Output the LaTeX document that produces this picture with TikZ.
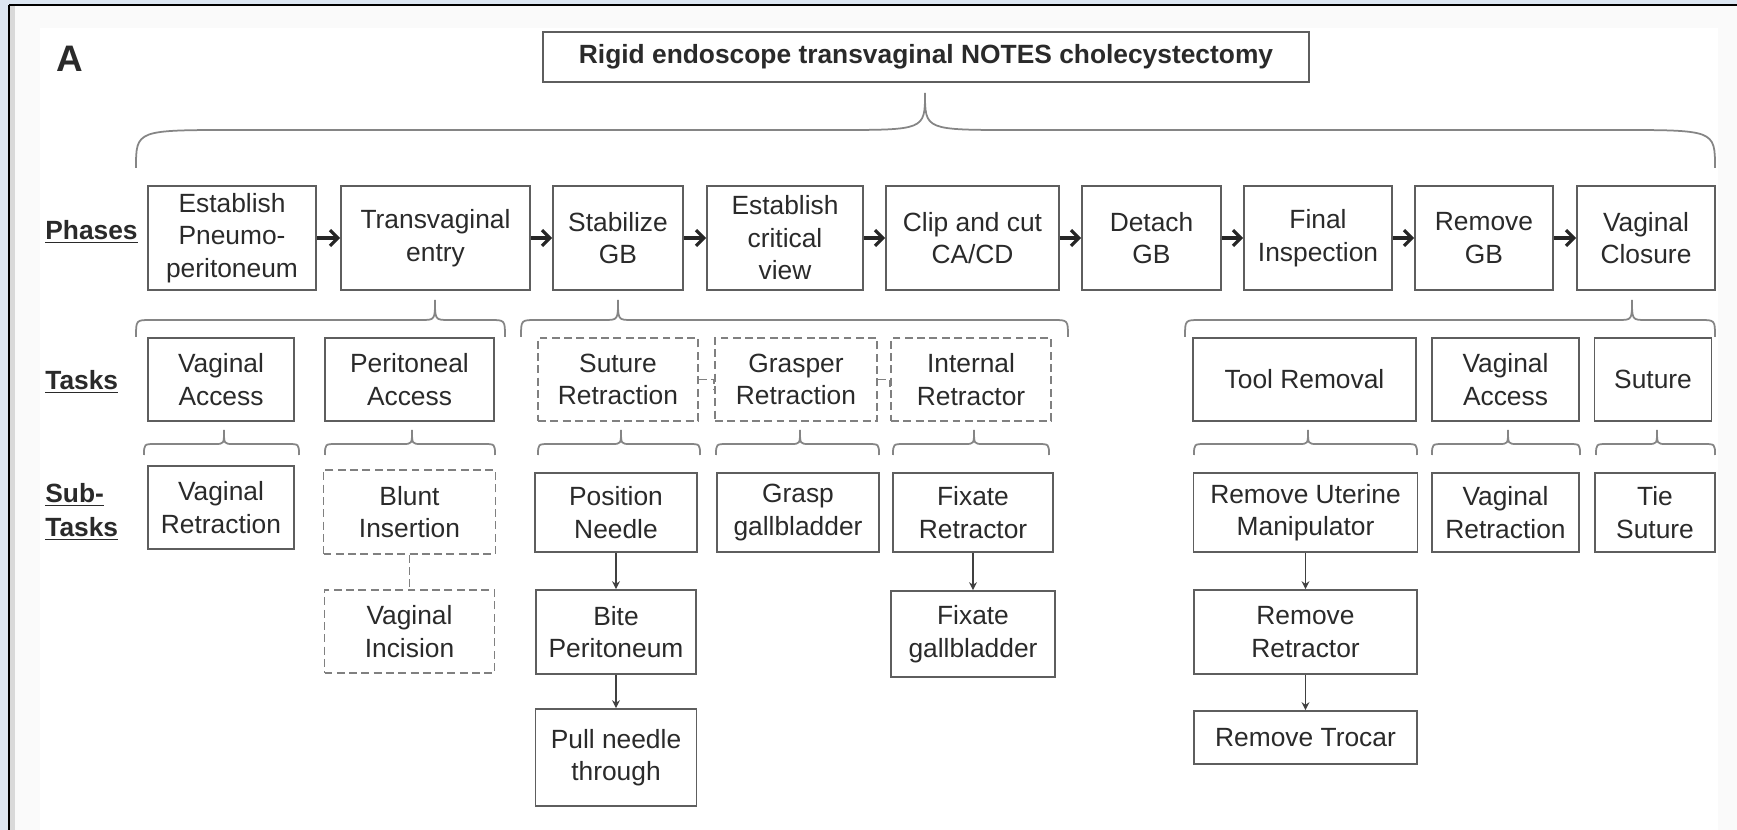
\documentclass[tikz,border=0pt]{standalone}
\usepackage{fontspec}
\setmainfont{Liberation Sans}
\usetikzlibrary{arrows.meta,positioning}
\definecolor{framebg}{HTML}{DCE6F2}
\definecolor{boxline}{HTML}{5E5E5E}
\definecolor{dashline}{HTML}{808080}
\definecolor{braceline}{HTML}{858585}
\definecolor{txt}{HTML}{2A2A2A}
\newcommand{\boxfont}{\fontsize{15}{18.5}\selectfont}

\begin{document}
\begin{tikzpicture}[x=0.02cm,y=-0.02cm,
  box/.style={draw=boxline,line width=0.035cm,align=center,inner sep=0pt,text=txt,font=\boxfont},
  dbox/.style={box,draw=dashline,dash pattern=on 4.5pt off 2.5pt},
  wh/.style 2 args={minimum width=#1*0.02cm,minimum height=#2*0.02cm},
  lbl/.style={font=\boxfont\bfseries,text=txt,inner sep=0pt,align=left},
  brc/.style={draw=braceline,line width=0.035cm},
  parrow/.style={-{Straight Barb[length=4.5pt,width=9pt]},line width=1.8pt,black!85},
  sarrow/.style={-{Stealth[length=4.5pt,width=4.5pt]},line width=0.8pt,black!75},
  dline/.style={draw=dashline,line width=0.035cm,dash pattern=on 4.5pt off 2.5pt}]
  \useasboundingbox (0,0) rectangle (1737,830);
  % frame of the screenshot
  \fill[framebg] (0,0) rectangle (1737,830);
  \fill[black!2] (8,5) rectangle (1737,830);
  \fill[white] (40,28) rectangle (1718,830);
  \fill[black!15] (10,6) rectangle (15,830);
  \draw[line width=0.04cm] (9,5) -- (1737,5) (9,5) -- (9,830);

  \node[lbl,font=\fontsize{21}{24}\selectfont\bfseries,anchor=base west] (lA) at (56,72) {A};
  \node[box,wh={766}{50},font=\boxfont\bfseries] (top) at (926,57) {Rigid endoscope transvaginal NOTES cholecystectomy};

  % phases
  \node[lbl,anchor=base west] (lph) at (45,240) {\underline{Phases}};
  \foreach \n/\x/\w/\t in {p1/232/168/{Establish\\Pneumo-\\peritoneum},
      p2/435.5/189/{Transvaginal\\entry}, p3/618/130/{Stabilize\\GB},
      p4/785/156/{Establish\\critical\\view}, p5/972.5/173/{Clip and cut\\CA/CD},
      p6/1151.5/139/{Detach\\GB}, p7/1318/148/{Final\\Inspection},
      p8/1484/138/{Remove\\GB}, p9/1646/138/{Vaginal\\Closure}}
    \node[box,wh={\w}{104}] (\n) at (\x,238) {\t};
  \foreach \a/\b in {p1/p2,p2/p3,p3/p4,p4/p5,p5/p6,p6/p7,p7/p8,p8/p9}
    \draw[parrow] (\a) -- (\b);

  % braces
  \draw[brc] (136,168) .. controls (136,130) .. (236,130) -- (835,130)
    .. controls (925,130) .. (925,93) .. controls (925,130) .. (1015,130)
    -- (1615,130) .. controls (1715,130) .. (1715,168);
  \foreach \xa/\xt/\xb in {136/435/505, 521/618/1068, 1185/1632/1715}
    \draw[brc] (\xa,337) .. controls (\xa,320) .. (\xa+15,320) -- (\xt-14,320)
      .. controls (\xt,320) .. (\xt,300) .. controls (\xt,320) .. (\xt+14,320)
      -- (\xb-15,320) .. controls (\xb,320) .. (\xb,337);
  \foreach \xa/\xt/\xb in {144/224/299, 325/412/495, 538/621/700, 716/800/879,
      893/974/1049, 1194/1308/1417, 1432/1508/1580, 1596/1657/1715}
    \draw[brc] (\xa,455) .. controls (\xa,444) .. (\xa+12,444) -- (\xt-9,444)
      .. controls (\xt,444) .. (\xt,430) .. controls (\xt,444) .. (\xt+9,444)
      -- (\xb-12,444) .. controls (\xb,444) .. (\xb,455);

  % tasks
  \node[lbl,anchor=base west] (ltk) at (45,390) {\underline{Tasks}};
  \node[box,wh={146}{83}] (t1) at (221,379.5) {Vaginal\\Access};
  \node[box,wh={169}{83}] (t2) at (409.5,379.5) {Peritoneal\\Access};
  \node[dbox,wh={160}{83}] (t3) at (618,379.5) {Suture\\Retraction};
  \node[dbox,wh={162}{83}] (t4) at (796,379.5) {Grasper\\Retraction};
  \node[dbox,wh={160}{83}] (t5) at (971,379.5) {Internal\\Retractor};
  \node[box,wh={223}{83}] (t6) at (1304.5,379.5) {Tool Removal};
  \node[box,wh={147}{83}] (t7) at (1505.5,379.5) {Vaginal\\Access};
  \node[box,wh={117}{83}] (t8) at (1653,379.5) {Suture};
  \draw[dline] (t3.east) -| ([yshift=-0.2cm]t4.west);
  \draw[dline] (t4.east) -| ([yshift=-0.2cm]t5.west);

  % sub-tasks
  \node[lbl,anchor=north west] (lst) at (45,483) {\underline{Sub-}\\[1pt]\underline{Tasks}};
  \node[box,wh={146}{83}] (s1) at (221,507.5) {Vaginal\\Retraction};
  \node[dbox,wh={172}{84}] (s2) at (409.5,512) {Blunt\\Insertion};
  \node[box,wh={162}{79}] (s3) at (616,512.5) {Position\\Needle};
  \node[box,wh={162}{79}] (s4) at (798,512.5) {Grasp\\gallbladder};
  \node[box,wh={160}{79}] (s5) at (973,512.5) {Fixate\\Retractor};
  \node[box,wh={224}{79}] (s6) at (1305.5,512.5) {Remove Uterine\\Manipulator};
  \node[box,wh={147}{79}] (s7) at (1505.5,512.5) {Vaginal\\Retraction};
  \node[box,wh={120}{79}] (s8) at (1655,512.5) {Tie\\Suture};

  \node[dbox,wh={170}{83}] (s9) at (409.5,631.5) {Vaginal\\Incision};
  \node[box,wh={160}{84}] (s10) at (616,632) {Bite\\Peritoneum};
  \node[box,wh={164}{86}] (s11) at (973,634) {Fixate\\gallbladder};
  \node[box,wh={223}{84}] (s12) at (1305.5,632) {Remove\\Retractor};

  \node[box,wh={161}{97}] (s13) at (616,757.5) {Pull needle\\through};
  \node[box,wh={223}{53}] (s14) at (1305.5,737.5) {Remove Trocar};

  \draw[dline] (s2) -- (s9);
  \draw[sarrow] (s3) -- (s10);
  \draw[sarrow] (s10) -- (s13);
  \draw[sarrow] (s5) -- (s11);
  \draw[sarrow] (s6) -- (s12);
  \draw[sarrow] (s12) -- (s14);
\end{tikzpicture}
\end{document}
